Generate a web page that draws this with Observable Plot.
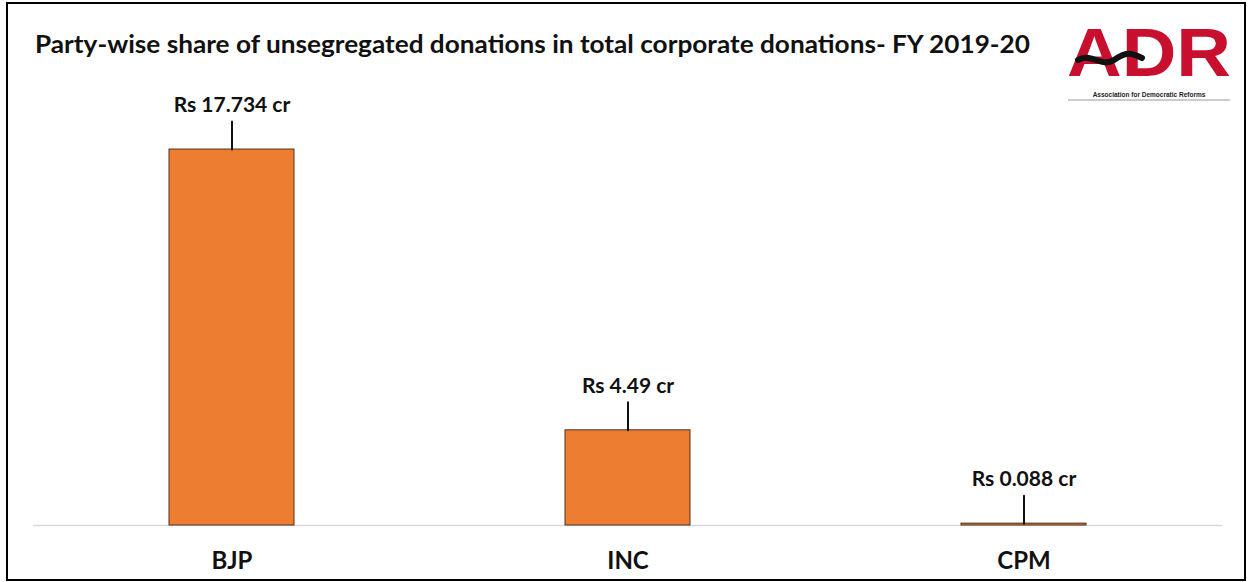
<!DOCTYPE html>
<html>
<head>
<meta charset="utf-8">
<script src="https://cdn.jsdelivr.net/npm/d3@7"></script>
<script src="https://cdn.jsdelivr.net/npm/@observablehq/plot@0.6"></script>
<style>
  html, body { margin: 0; padding: 0; background: #fff; }
  #wrap { position: relative; width: 1248px; height: 582px; overflow: hidden; background: #fff; }
  #frame { position: absolute; left: 6px; top: 2px; width: 1236px; height: 575px; border: 2px solid #000; pointer-events: none; }
  #title { position: absolute; left: 0; top: 0; }
  #logo { position: absolute; left: 1058px; top: 0px; overflow: visible; }
  #chart { position: absolute; left: 0; top: 0; }
</style>
</head>
<body>
<div id="wrap">
  <div id="chart"></div>
  <svg id="title" width="1050" height="80">
    <text x="35" y="53" font-family="Lato" font-weight="700" font-size="25" fill="#111"
      textLength="995" lengthAdjust="spacingAndGlyphs">Party-wise share of unsegregated donations in total corporate donations- FY 2019-20</text>
  </svg>
  <svg id="logo" width="182" height="104">
    <text x="91" y="76" text-anchor="middle" font-family="Liberation Sans" font-weight="700" font-size="68" fill="#C8102E"
      textLength="164" lengthAdjust="spacingAndGlyphs">ADR</text>
    <path d="M20 60 C 32 52, 44 68, 56 60 S 72 52, 84 58" stroke="#111" stroke-width="6" fill="none" stroke-linecap="round"/>
    <text x="91" y="97" text-anchor="middle" font-family="Liberation Sans" font-weight="700" font-size="6.5" fill="#222">Association for Democratic Reforms</text>
    <line x1="10" y1="100" x2="172" y2="100" stroke="#999" stroke-width="1"/>
  </svg>
  <div id="frame"></div>
</div>
<script>
const parties = ["BJP", "INC", "CPM"];
const amounts = [17.734, 4.49, 0.088];
const labels = ["Rs 17.734 cr", "Rs 4.49 cr", "Rs 0.088 cr"];

const data = parties.map((p, i) => ({party: p, amount: amounts[i], label: labels[i]}));

const leader = {
  draw(context, l) {
    context.moveTo(0, 0);
    context.lineTo(0, -l);
  }
};

const chart = Plot.plot({
  width: 1248,
  height: 582,
  marginTop: 101,
  marginBottom: 57,
  marginLeft: 33,
  marginRight: 26,
  style: {background: "transparent", fontFamily: "Lato"},
  x: {domain: parties, paddingInner: 0.684, paddingOuter: 0.342, label: null},
  y: {domain: [0, 20], axis: null},
  marks: [
    Plot.ruleY([0], {stroke: "#d9d9d9", strokeWidth: 1.5}),
    Plot.barY(data, {x: "party", y: "amount", fill: "#ED7D31", stroke: "#4a3020", strokeWidth: 1}),
    Plot.vector(data, {x: "party", y: "amount", length: 28, rotate: 0, anchor: "start", shape: leader, stroke: "#111", strokeWidth: 2}),
    Plot.text(data, {x: "party", y: "amount", text: "label", dy: -44, fontSize: 21, fontWeight: 700, fill: "#111"}),
    Plot.axisX({tickSize: 0, tickPadding: 26, fontSize: 24, fontWeight: 700, fill: "#111", label: null})
  ]
});
document.getElementById("chart").appendChild(chart);
</script>
</body>
</html>
